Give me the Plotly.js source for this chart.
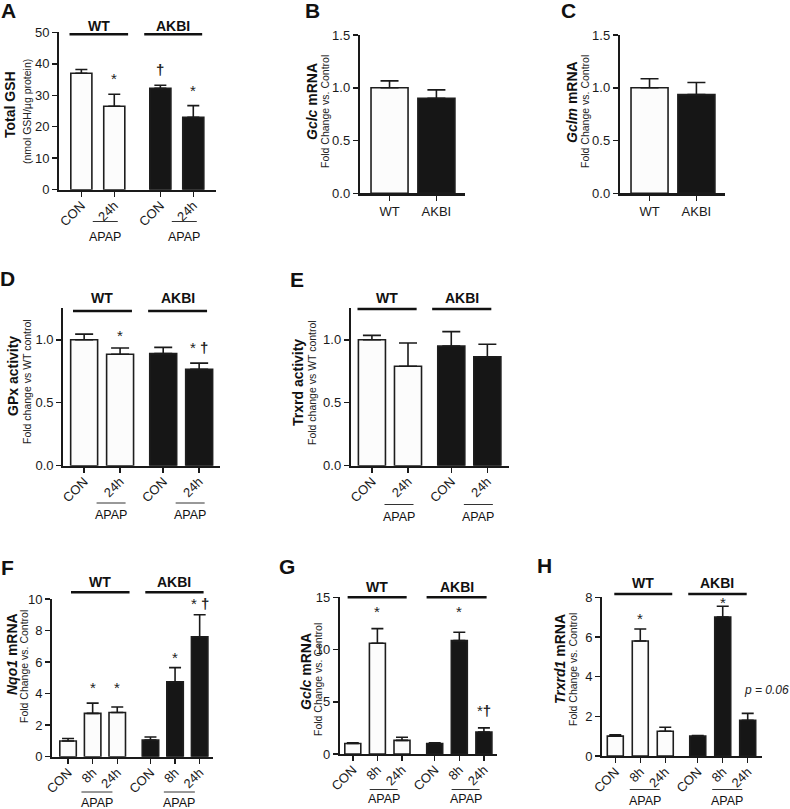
<!DOCTYPE html>
<html>
<head>
<meta charset="utf-8">
<script src="https://cdn.plot.ly/plotly-3.0.1.min.js"></script>
<style>html,body{margin:0;padding:0;background:#fff;}#chart{width:790px;height:809px;}</style>
</head>
<body>
<div id="chart"></div>
<script>
// ---------------- DATA ----------------
// Panel A: Total GSH (nmol GSH/µg protein)
const catsA = ['CON', '24h', 'CON', '24h'];
const groupsA = ['WT', 'WT', 'AKBI', 'AKBI'];
const gshMean = [37.0, 26.5, 32.2, 23.0];
const gshSem = [1.2, 3.8, 1.0, 3.7];
const sigA = ['', '*', '†', '*'];

// Panel B: Gclc mRNA
const catsB = ['WT', 'AKBI'];
const groupsB = ['WT', 'AKBI'];
const gclcBMean = [1.00, 0.90];
const gclcBSem = [0.065, 0.08];

// Panel C: Gclm mRNA
const catsC = ['WT', 'AKBI'];
const groupsC = ['WT', 'AKBI'];
const gclmMean = [1.00, 0.935];
const gclmSem = [0.085, 0.115];

// Panel D: GPx activity
const catsD = ['CON', '24h', 'CON', '24h'];
const groupsD = ['WT', 'WT', 'AKBI', 'AKBI'];
const gpxMean = [1.00, 0.885, 0.89, 0.765];
const gpxSem = [0.045, 0.05, 0.05, 0.05];
const sigD = ['', '*', '', '* †'];

// Panel E: Trxrd activity
const catsE = ['CON', '24h', 'CON', '24h'];
const groupsE = ['WT', 'WT', 'AKBI', 'AKBI'];
const trxrdActMean = [1.00, 0.79, 0.95, 0.865];
const trxrdActSem = [0.035, 0.185, 0.115, 0.10];

// Panel F: Nqo1 mRNA
const catsF = ['CON', '8h', '24h', 'CON', '8h', '24h'];
const groupsF = ['WT', 'WT', 'WT', 'AKBI', 'AKBI', 'AKBI'];
const nqo1Mean = [1.00, 2.75, 2.80, 1.05, 4.75, 7.60];
const nqo1Sem = [0.15, 0.65, 0.35, 0.20, 0.90, 1.40];
const sigF = ['', '*', '*', '', '*', '* †'];

// Panel G: Gclc mRNA (time course)
const catsG = ['CON', '8h', '24h', 'CON', '8h', '24h'];
const groupsG = ['WT', 'WT', 'WT', 'AKBI', 'AKBI', 'AKBI'];
const gclcGMean = [1.00, 10.6, 1.30, 1.00, 10.85, 2.10];
const gclcGSem = [0.07, 1.4, 0.30, 0.07, 0.80, 0.40];
const sigG = ['', '*', '', '', '*', '*†'];

// Panel H: Trxrd1 mRNA
const catsH = ['CON', '8h', '24h', 'CON', '8h', '24h'];
const groupsH = ['WT', 'WT', 'WT', 'AKBI', 'AKBI', 'AKBI'];
const trxrd1Mean = [1.00, 5.80, 1.25, 1.00, 7.00, 1.80];
const trxrd1Sem = [0.07, 0.60, 0.20, 0.03, 0.55, 0.35];
const sigH = ['', '*', '', '', '*', ''];

// ---------------- LAYOUT HELPERS ----------------
const W = 790, H = 809;
const FONT = 'Arial, "Liberation Sans", Helvetica, sans-serif';
const px = v => v / W;
const py = v => 1 - v / H;
const FILL = {WT: '#fcfcfc', AKBI: '#161616'};

const panels = [
  {letter: 'A', letterXY: [8, 10], cats: catsA, groups: groupsA, mean: gshMean, sem: gshSem, sig: sigA,
   sigShift: [0, 16, 16, 15],
   pos: [0, 1, 2.4, 3.4], barw: 0.64, xdom: [59.3, 216], ydom: [32.3, 189.7], xrange: [-0.67, 4.09],
   yrange: [0, 50], dtick: 10, fmt: '', angle: -45,
   glines: [[-0.36, 1.42], [1.91, 3.67]], glineY: 34.3, gtextY: 26,
   apap: [[1], [3]], apapLen: 25, apapShift: -9, apapLineY: 221.5, apapTextY: 237,
   title: '<b>Total GSH</b>', sub: '(nmol GSH/µg protein)', titleX: 10, subX: 27, titleY: 105, subY: 112},
  {letter: 'B', letterXY: [312, 10], cats: catsB, groups: groupsB, mean: gclcBMean, sem: gclcBSem, sig: ['', ''],
   sigShift: [0, 0],
   pos: [0, 1], barw: 0.79, xdom: [360, 465], ydom: [35, 193.3], xrange: [-0.63, 1.61],
   yrange: [0, 1.5], dtick: 0.5, fmt: '.1f', angle: 0,
   glines: [], apap: [],
   title: '<b><i>Gclc</i> mRNA</b>', sub: 'Fold Change vs. Control', titleX: 312, subX: 325, titleY: 102, subY: 112},
  {letter: 'C', letterXY: [568, 10], cats: catsC, groups: groupsC, mean: gclmMean, sem: gclmSem, sig: ['', ''],
   sigShift: [0, 0],
   pos: [0, 1], barw: 0.79, xdom: [620, 725], ydom: [35, 193.3], xrange: [-0.63, 1.61],
   yrange: [0, 1.5], dtick: 0.5, fmt: '.1f', angle: 0,
   glines: [], apap: [],
   title: '<b><i>Gclm</i> mRNA</b>', sub: 'Fold Change vs. Control', titleX: 572, subX: 585, titleY: 102, subY: 112},
  {letter: 'D', letterXY: [7, 278], cats: catsD, groups: groupsD, mean: gpxMean, sem: gpxSem, sig: sigD,
   sigShift: [0, 12, 0, 16],
   pos: [0, 1, 2.2, 3.2], barw: 0.75, xdom: [63.3, 220], ydom: [308.3, 465.7], xrange: [-0.58, 3.78],
   yrange: [0, 1.25], dtick: 0.5, fmt: '.1f', angle: -45,
   glines: [[-0.31, 1.33], [1.78, 3.42]], glineY: 311, gtextY: 298,
   apap: [[1], [3]], apapLen: 29, apapShift: -9, apapLineY: 503, apapTextY: 515,
   title: '<b>GPx activity</b>', sub: 'Fold change vs WT control', titleX: 13, subX: 27, titleY: 376, subY: 382},
  {letter: 'E', letterXY: [297, 279], cats: catsE, groups: groupsE, mean: trxrdActMean, sem: trxrdActSem, sig: ['', '', '', ''],
   sigShift: [0, 0, 0, 0],
   pos: [0, 1, 2.2, 3.2], barw: 0.75, xdom: [351, 509], ydom: [308.3, 465.7], xrange: [-0.58, 3.8],
   yrange: [0, 1.25], dtick: 0.5, fmt: '.1f', angle: -45,
   glines: [[-0.40, 1.24], [1.67, 3.31]], glineY: 309, gtextY: 298,
   apap: [[1], [3]], apapLen: 29, apapShift: -9, apapLineY: 504.5, apapTextY: 517,
   title: '<b>Trxrd activity</b>', sub: 'Fold change vs WT control', titleX: 298, subX: 312, titleY: 383, subY: 383},
  {letter: 'F', letterXY: [7, 567], cats: catsF, groups: groupsF, mean: nqo1Mean, sem: nqo1Sem, sig: sigF,
   sigShift: [0, 16, 20, 0, 10, 11],
   pos: [0, 1, 2, 3.35, 4.35, 5.35], barw: 0.67, xdom: [52.3, 212.7], ydom: [599, 756.7], xrange: [-0.64, 5.88],
   yrange: [0, 10], dtick: 2, fmt: '', angle: -45,
   glines: [[0.12, 2.5], [3.14, 5.51]], glineY: 592.3, gtextY: 581.7,
   apap: [[1, 2], [4, 5]], apapLen: 31, apapShift: -8, apapLineY: 792, apapTextY: 803,
   title: '<b><i>Nqo1</i> mRNA</b>', sub: 'Fold Change vs. Control', titleX: 12, subX: 24, titleY: 654, subY: 667},
  {letter: 'G', letterXY: [287, 566], cats: catsG, groups: groupsG, mean: gclcGMean, sem: gclcGSem, sig: sigG,
   sigShift: [0, 17, 0, 0, 21, 17],
   pos: [0, 1, 2, 3.33, 4.33, 5.33], barw: 0.65, xdom: [340, 496.7], ydom: [597.3, 754], xrange: [-0.52, 5.85],
   yrange: [0, 15], dtick: 5, fmt: '', angle: -45,
   glines: [[-0.21, 2.19], [3.0, 5.44]], glineY: 597.3, gtextY: 586.7,
   apap: [[1, 2], [4, 5]], apapLen: 28, apapShift: -6, apapLineY: 789.5, apapTextY: 799,
   title: '<b><i>Gclc</i> mRNA</b>', sub: 'Fold Change vs. Control', titleX: 306, subX: 318, titleY: 672, subY: 680},
  {letter: 'H', letterXY: [544, 565], cats: catsH, groups: groupsH, mean: trxrd1Mean, sem: trxrd1Sem, sig: sigH,
   sigShift: [0, 11, 0, 0, 4, 0],
   pos: [0, 1, 2, 3.3, 4.3, 5.3], barw: 0.64, xdom: [602.3, 761.7], ydom: [597.3, 756], xrange: [-0.52, 5.86],
   yrange: [0, 8], dtick: 2, fmt: '', angle: -45,
   glines: [[-0.04, 2.28], [2.92, 5.26]], glineY: 594, gtextY: 583.3,
   apap: [[1, 2], [4, 5]], apapLen: 30, apapShift: -8, apapLineY: 789.5, apapTextY: 801,
   title: '<b><i>Trxrd1</i> mRNA</b>', sub: 'Fold Change vs. Control', titleX: 560, subX: 573, titleY: 659, subY: 670}
];

const traces = [];
const layout = {
  width: W, height: H, margin: {l: 0, r: 0, t: 0, b: 0},
  paper_bgcolor: '#fff', plot_bgcolor: '#fff', showlegend: false,
  font: {family: FONT, color: '#1a1a1a', size: 13},
  annotations: [], shapes: [], bargap: 0
};

panels.forEach((p, i) => {
  const n = i === 0 ? '' : String(i + 1);
  const xa = 'x' + n, ya = 'y' + n;
  traces.push({
    type: 'bar', x: p.pos, y: p.mean, width: p.pos.map(() => p.barw),
    xaxis: xa, yaxis: ya, hoverinfo: 'skip',
    marker: {color: p.groups.map(g => FILL[g]), line: {color: '#1e1e1e', width: 1.6}},
    error_y: {type: 'data', symmetric: false, array: p.sem, arrayminus: p.sem.map(() => 0),
              color: '#1a1a1a', thickness: 1.6, width: p.barw > 0.7 ? 9 : 6}
  });
  layout['xaxis' + n] = {
    domain: [px(p.xdom[0]), px(p.xdom[1])], anchor: ya, range: p.xrange,
    tickmode: 'array', tickvals: p.pos, ticktext: p.cats, tickangle: p.angle,
    ticklabelstandoff: p.angle ? -4 : 0,
    ticks: 'outside', ticklen: 5, tickwidth: 1.5, tickcolor: '#1a1a1a',
    showline: true, linewidth: 2.2, linecolor: '#1a1a1a', showgrid: false, zeroline: false,
    tickfont: {size: 13, family: FONT, color: '#1a1a1a'}, fixedrange: true
  };
  layout['yaxis' + n] = {
    domain: [py(p.ydom[1]), py(p.ydom[0])], anchor: xa, range: p.yrange,
    tickmode: 'linear', tick0: 0, dtick: p.dtick, tickformat: p.fmt,
    ticks: 'outside', ticklen: 5, tickwidth: 1.5, tickcolor: '#1a1a1a',
    showline: true, linewidth: 2.2, linecolor: '#1a1a1a', showgrid: false, zeroline: false,
    tickfont: {size: 13, family: FONT, color: '#1a1a1a'}, fixedrange: true
  };
  // panel letter
  layout.annotations.push({xref: 'paper', yref: 'paper', x: px(p.letterXY[0]), y: py(p.letterXY[1]),
    text: '<b>' + p.letter + '</b>', showarrow: false, xanchor: 'center', yanchor: 'middle',
    font: {size: 21, family: FONT, color: '#111'}});
  // y titles
  layout.annotations.push({xref: 'paper', yref: 'paper', x: px(p.titleX), y: py(p.titleY), text: p.title,
    textangle: -90, showarrow: false, xanchor: 'center', yanchor: 'middle',
    font: {size: 14, family: FONT, color: '#111'}});
  layout.annotations.push({xref: 'paper', yref: 'paper', x: px(p.subX), y: py(p.subY), text: p.sub,
    textangle: -90, showarrow: false, xanchor: 'center', yanchor: 'middle',
    font: {size: 10.5, family: FONT, color: '#222'}});
  // group lines + labels
  const gl = ['WT', 'AKBI'];
  p.glines.forEach((g, k) => {
    layout.shapes.push({type: 'line', xref: xa, yref: 'paper', x0: g[0], x1: g[1],
      y0: py(p.glineY), y1: py(p.glineY), line: {color: '#111', width: 2.6}});
    layout.annotations.push({xref: xa, yref: 'paper', x: (g[0] + g[1]) / 2, y: py(p.gtextY),
      text: '<b>' + gl[k] + '</b>', showarrow: false, xanchor: 'center', yanchor: 'middle',
      font: {size: 14, family: FONT, color: '#111'}});
  });
  // APAP underlines + labels
  p.apap.forEach(idx => {
    const mid = idx.reduce((s, j) => s + p.pos[j], 0) / idx.length;
    layout.shapes.push({type: 'line', xref: xa, yref: 'paper', xsizemode: 'pixel', xanchor: mid,
      x0: p.apapShift - p.apapLen / 2, x1: p.apapShift + p.apapLen / 2,
      y0: py(p.apapLineY), y1: py(p.apapLineY), line: {color: '#333', width: 1}});
    layout.annotations.push({xref: xa, yref: 'paper', x: mid, xshift: p.apapShift, y: py(p.apapTextY),
      text: 'APAP', showarrow: false, xanchor: 'center', yanchor: 'middle',
      font: {size: 12.5, family: FONT, color: '#111'}});
  });
  // significance marks
  if (p.sig) p.sig.forEach((s, j) => {
    if (!s) return;
    const txt = s.replace('†', '<b>†</b>');
    layout.annotations.push({xref: xa, yref: ya, x: p.pos[j], y: p.mean[j] + p.sem[j],
      yshift: p.sigShift[j], text: txt, showarrow: false, xanchor: 'center', yanchor: 'middle',
      font: {size: 15, family: FONT, color: '#222'}});
  });
});

// p-value note in panel H
layout.annotations.push({xref: 'x8', yref: 'y8', x: 5.3, xshift: -6, y: 1.8 + 0.35, yshift: 23,
  text: '<i>p = 0.06</i>', showarrow: false, xanchor: 'left', yanchor: 'middle',
  font: {size: 12, family: FONT, color: '#222'}});

Plotly.newPlot('chart', traces, layout, {staticPlot: true, displayModeBar: false});
</script>
</body>
</html>
